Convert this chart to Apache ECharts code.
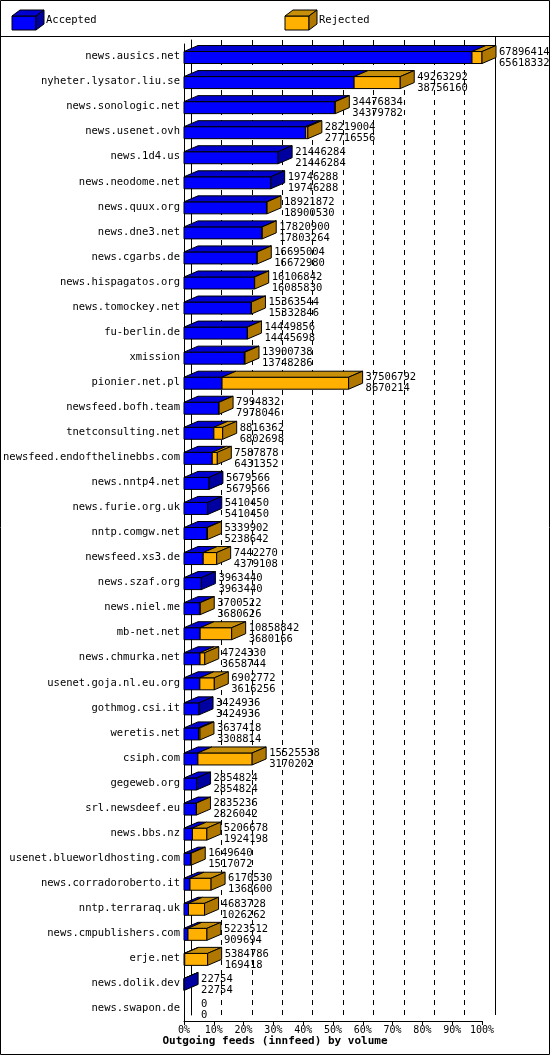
<!DOCTYPE html>
<html><head><meta charset="utf-8">
<script src="https://cdn.jsdelivr.net/npm/echarts@6/dist/echarts.min.js"></script>
<style>html,body{margin:0;padding:0;background:#fff}#c{width:550px;height:1055px}</style>
</head><body><div id="c"></div>
<script>
const categories = ["news.ausics.net","nyheter.lysator.liu.se","news.sonologic.net","news.usenet.ovh","news.1d4.us","news.neodome.net","news.quux.org","news.dne3.net","news.cgarbs.de","news.hispagatos.org","news.tomockey.net","fu-berlin.de","xmission","pionier.net.pl","newsfeed.bofh.team","tnetconsulting.net","newsfeed.endofthelinebbs.com","news.nntp4.net","news.furie.org.uk","nntp.comgw.net","newsfeed.xs3.de","news.szaf.org","news.niel.me","mb-net.net","news.chmurka.net","usenet.goja.nl.eu.org","gothmog.csi.it","weretis.net","csiph.com","gegeweb.org","srl.newsdeef.eu","news.bbs.nz","usenet.blueworldhosting.com","news.corradoroberto.it","nntp.terraraq.uk","news.cmpublishers.com","erje.net","news.dolik.dev","news.swapon.de"];
const totals = [67896414,49263292,34476834,28219004,21446284,19746288,18921872,17820900,16695004,16106842,15363544,14449856,13900738,37506792,7994832,8816362,7587878,5679566,5410450,5339902,7442270,3963440,3700522,10858842,4724330,6902772,3424936,3637418,15525538,2854824,2835236,5206678,1649640,6170530,4683728,5223512,5384786,22754,0];
const accepted = [65618332,38756160,34379782,27716556,21446284,19746288,18900530,17803264,16672980,16085830,15332846,14445698,13748286,8670214,7978046,6802698,6431352,5679566,5410450,5238642,4379108,3963440,3680626,3680166,3658744,3616256,3424936,3308814,3170202,2854824,2826042,1924198,1517072,1368600,1026262,909694,169418,22754,0];
const tickLabels = ["0%","10%","20%","30%","40%","50%","60%","70%","80%","90%","100%"];
const MAX = 67896414;
const MONO = "DejaVu Sans Mono";
const C = {blue:"#0000ff", blueTop:"#0000d0", blueSide:"#0000a0", or:"#ffb000", orTop:"#c8900a", orSide:"#b07800"};
const DX = 14, DY = -6;

function box(x0,x1,yt,yb,front,top,side,showSide){
  const ch=[{type:'rect',shape:{x:x0,y:yt,width:Math.max(x1-x0,0),height:yb-yt},style:{fill:front,stroke:'#000',lineWidth:1}},
   {type:'polygon',shape:{points:[[x0,yt],[x0+DX,yt+DY],[x1+DX,yt+DY],[x1,yt]]},style:{fill:top,stroke:'#000',lineWidth:1}}];
  if(showSide) ch.push({type:'polygon',shape:{points:[[x1,yt],[x1+DX,yt+DY],[x1+DX,yb+DY],[x1,yb]]},style:{fill:side,stroke:'#000',lineWidth:1}});
  return ch;
}

const chart = echarts.init(document.getElementById('c'));
chart.setOption({
  animation:false,
  grid:[{left:177,right:68,top:44,bottom:34},{left:191,right:55,top:40,bottom:40}],
  xAxis:[
    {gridIndex:0,type:'value',min:0,max:MAX,interval:MAX/10,axisLine:{show:true,lineStyle:{color:'#000'}},axisTick:{show:true,length:4,lineStyle:{color:'#000'}},splitLine:{show:false},
     axisLabel:{fontFamily:MONO,fontSize:10,color:'#000',margin:4,formatter:(v)=>tickLabels[Math.round(v/MAX*10)]}},
    {gridIndex:1,type:'value',min:0,max:MAX,interval:MAX/10,axisLine:{show:false},axisTick:{show:false},axisLabel:{show:false},
     splitLine:{show:true,lineStyle:{color:'#000',type:[5,5],width:1}}}
  ],
  yAxis:[
    {gridIndex:0,type:'category',inverse:true,data:categories,axisLine:{show:true,lineStyle:{color:'#000'}},axisTick:{show:false},
     axisLabel:{fontFamily:MONO,fontSize:10.5,color:'#000',margin:4}},
    {gridIndex:1,type:'category',inverse:true,data:categories,axisLine:{show:true,lineStyle:{color:'#000'}},axisTick:{show:false},axisLabel:{show:false}}
  ],
  series:[{
    type:'custom',xAxisIndex:0,yAxisIndex:0,
    data:categories.map((c,i)=>[i,accepted[i],totals[i]]),
    encode:{x:[1,2],y:0},
    renderItem:function(params,api){
      const i=api.value(0), a=api.value(1), t=api.value(2);
      const p0=api.coord([0,i]), pa=api.coord([a,i]), pt=api.coord([t,i]);
      const yc=p0[1], yt=yc-5, yb=yc+7;
      let ch=[];
      if(t>0){
        if(a>0) ch=ch.concat(box(p0[0],pa[0],yt,yb,C.blue,C.blueTop,C.blueSide,t===a));
        if(t>a) ch=ch.concat(box(pa[0],pt[0],yt,yb,C.or,C.orTop,C.orSide,true));
      }
      ch.push({type:'text',style:{text:String(t)+'\n'+String(a),x:pt[0]+DX+3,y:yc+1,verticalAlign:'middle',fontFamily:MONO,fontSize:10.5,lineHeight:11,fill:'#000'}});
      return {type:'group',children:ch};
    }
  }],
  graphic:[
    {type:'rect',shape:{x:0.5,y:0.5,width:549,height:1054},style:{fill:'none',stroke:'#000'}},
    {type:'line',shape:{x1:0,y1:36.5,x2:550,y2:36.5},style:{stroke:'#000'}},
    {type:'line',shape:{x1:495.5,y1:37,x2:495.5,y2:1015},style:{stroke:'#000'}},
    {type:'group',x:12,y:12,children:[
      {type:'rect',shape:{x:0,y:4,width:24,height:14},style:{fill:C.blue,stroke:'#000'}},
      {type:'polygon',shape:{points:[[0,4],[8,-2],[32,-2],[24,4]]},style:{fill:C.blueTop,stroke:'#000'}},
      {type:'polygon',shape:{points:[[24,4],[32,-2],[32,12],[24,18]]},style:{fill:C.blueSide,stroke:'#000'}}]},
    {type:'text',x:46,y:20,style:{text:'Accepted',fontFamily:MONO,fontSize:10.5,fill:'#000',verticalAlign:'middle'}},
    {type:'group',x:285,y:12,children:[
      {type:'rect',shape:{x:0,y:4,width:24,height:14},style:{fill:C.or,stroke:'#000'}},
      {type:'polygon',shape:{points:[[0,4],[8,-2],[32,-2],[24,4]]},style:{fill:C.orTop,stroke:'#000'}},
      {type:'polygon',shape:{points:[[24,4],[32,-2],[32,12],[24,18]]},style:{fill:C.orSide,stroke:'#000'}}]},
    {type:'text',x:319,y:20,style:{text:'Rejected',fontFamily:MONO,fontSize:10.5,fill:'#000',verticalAlign:'middle'}},
    {type:'text',x:275,y:1041,style:{text:'Outgoing feeds (innfeed) by volume',fontFamily:MONO,fontSize:11,fontWeight:'bold',fill:'#000',align:'center',verticalAlign:'middle'}}
  ]
});
</script></body></html>
